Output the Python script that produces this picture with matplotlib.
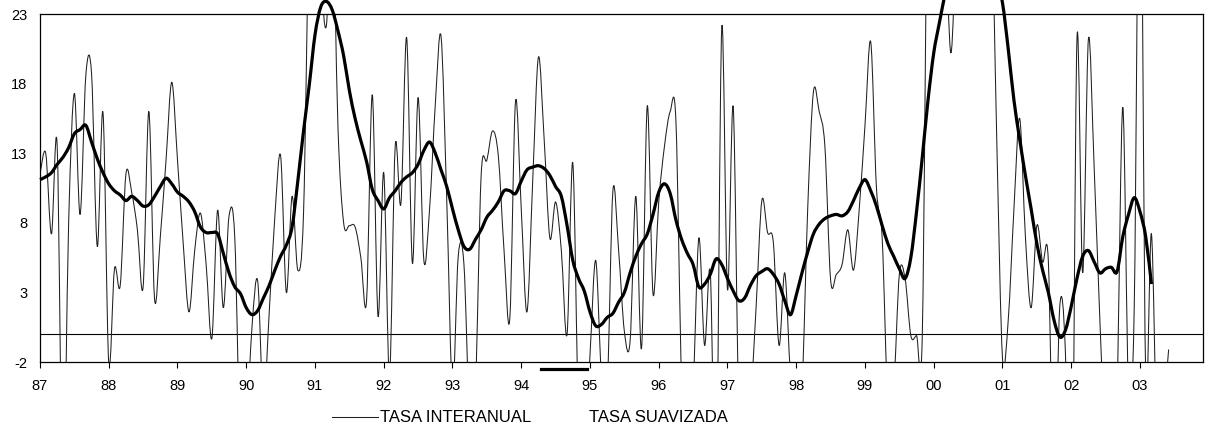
import matplotlib
matplotlib.use("Agg")
import matplotlib.pyplot as plt
from matplotlib.legend_handler import HandlerLine2D
from matplotlib.lines import Line2D
from matplotlib.path import Path
from matplotlib.patches import PathPatch
import numpy as np

plt.rcParams['font.family'] = ['Liberation Sans', 'DejaVu Sans']

# Datos mensuales desde enero 1987
tasa_interanual = [
    11.5, 13.0, 7.2, 13.5, -12, 8.0, 17.3, 8.6, 18.6, 18.7, 6.3, 15.9,
    -2.1, 4.7, 3.5, 11.5, 10.2, 7.5, 3.4, 16.0, 2.5, 7.0, 12.5, 18.1,
    12.5, 6.5, 1.6, 6.0, 8.7, 5.0, -0.3, 8.9, 1.9, 8.5, 6.9, -9,
    -7, 0.5, 3.8, -5, 1.5, 8.5, 12.8, 3.0, 9.9, 4.6, 8.7, 30,
    34, 26, 22.2, 32, 15, 8.0, 7.8, 7.7, 5.5, 2.4, 17.2, 1.3,
    11.6, -3, 13.5, 9.4, 21.3, 5.1, 17.0, 5.3, 9.0, 16.5, 21.4, 9.6,
    -4, 5.6, 5.0, -6, -4, 11.4, 12.5, 14.6, 12.8, 6.0, 1.1, 16.7,
    9.0, 1.6, 11.0, 19.9, 14.0, 6.9, 9.5, 6.0, 0.0, 12.3, -6, -8,
    -1.5, 5.3, -3, -4, 10.3, 6.0, 0.2, -0.5, 9.9, -1.0, 16.4, 2.9,
    9.5, 13.5, 16.0, 15.3, -3.5, -8, -4, 6.9, -0.8, 4.4, -12, 22.0,
    3.2, 16.3, -6, -7, -5, 2.0, 9.6, 7.3, 6.6, -0.8, 4.4, -3,
    -6, -4, 9.0, 17.4, 16.0, 13.5, 3.9, 4.3, 5.0, 7.5, 4.6, 9.0,
    15.0, 21.0, 10.5, 6.9, -5, -4, 4.3, 4.0, -0.1, -0.1, -0.1, 36,
    40, 38, 30, 20.2, 30, 40, 45, 45, 42, 38, 33, 14,
    -1.7, 1.0, 9.0, 15.5, 7.0, 1.9, 7.8, 5.2, 5.3, -12, 2.0, -1.5,
    -20, 21.2, 4.4, 21.2, 12.0, 1.0, -8, -8, -4, 16.3, -4, 2.0,
    40, -3, 7.2, -8, -6, -1.1,
]

tasa_suavizada = [
    11.1, 11.3, 11.6, 12.2, 12.7, 13.4, 14.4, 14.7, 15.0, 13.8, 12.6, 11.6,
    10.8, 10.3, 10.0, 9.6, 9.9, 9.6, 9.2, 9.3, 9.9, 10.6, 11.2, 10.8,
    10.2, 9.9, 9.5, 8.8, 7.7, 7.3, 7.3, 7.2, 5.8, 4.4, 3.4, 2.9,
    1.9, 1.4, 1.7, 2.6, 3.5, 4.6, 5.6, 6.4, 7.7, 11.0, 14.6, 17.9,
    21.5, 23.5, 23.9, 23.3, 21.8, 20.0, 17.5, 15.5, 13.9, 12.4, 10.4, 9.6,
    9.0, 9.8, 10.3, 10.9, 11.3, 11.6, 12.2, 13.2, 13.8, 13.0, 11.8, 10.6,
    9.0, 7.5, 6.3, 6.1, 6.8, 7.5, 8.4, 8.9, 9.5, 10.3, 10.3, 10.1,
    11.0, 11.8, 12.0, 12.1, 11.9, 11.4, 10.6, 9.9, 7.8, 5.3, 4.0, 3.1,
    1.6, 0.6, 0.7, 1.2, 1.5, 2.3, 3.0, 4.4, 5.6, 6.5, 7.2, 8.6,
    10.2, 10.8, 10.1, 8.2, 6.8, 5.8, 5.0, 3.4, 3.6, 4.3, 5.4, 5.0,
    4.0, 3.1, 2.4, 2.6, 3.5, 4.2, 4.5, 4.7, 4.3, 3.6, 2.4, 1.4,
    2.8, 4.4, 5.9, 7.2, 7.9, 8.3, 8.5, 8.6, 8.5, 8.8, 9.6, 10.5,
    11.1, 10.3, 9.2, 7.8, 6.5, 5.6, 4.7, 4.0, 5.5, 8.8, 12.7, 16.8,
    20.2, 22.4, 24.5, 26.5, 28, 29, 29.5, 29.5, 29, 28, 27, 25.5,
    23.8, 20.5, 16.8, 14.0, 11.4, 9.0, 6.5, 4.6, 3.0, 1.0, -0.2, 0.3,
    2.0, 4.0, 5.6, 6.0, 5.2, 4.4, 4.7, 4.8, 4.5, 7.0, 8.6, 9.8,
    8.8, 7.0, 3.6,
]

etiquetas_anio = ['87', '88', '89', '90', '91', '92', '93', '94', '95',
                  '96', '97', '98', '99', '00', '01', '02', '03']
n_meses = 204
y_ticks = [-2, 3, 8, 13, 18, 23]


def curva_suave(x, y):
    # línea suavizada tipo Excel (Bezier por los puntos)
    p = np.column_stack([x, y]).astype(float)
    n = len(p)
    verts = [p[0]]
    codes = [Path.MOVETO]
    for i in range(n - 1):
        p0 = p[i - 1] if i > 0 else p[i]
        p1, p2 = p[i], p[i + 1]
        p3 = p[i + 2] if i + 2 < n else p[i + 1]
        verts += [p1 + (p2 - p0) / 6, p2 - (p3 - p1) / 6, p2]
        codes += [Path.CURVE4] * 3
    return Path(verts, codes)


class HandlerDesplazado(HandlerLine2D):
    # la muestra de la serie suavizada aparece más arriba que su texto
    def __init__(self, dy, **kw):
        super().__init__(**kw)
        self.dy = dy

    def create_artists(self, legend, orig_handle, xdescent, ydescent,
                       width, height, fontsize, trans):
        arts = super().create_artists(legend, orig_handle, xdescent, ydescent,
                                      width, height, fontsize, trans)
        for a in arts:
            a.set_ydata(np.asarray(a.get_ydata()) + self.dy)
        return arts


fig = plt.figure(figsize=(12.06, 4.30), dpi=100)
ax = fig.add_axes([40 / 1206, 68 / 430, 1163 / 1206, 348 / 430])

x1 = np.arange(len(tasa_interanual))
x2 = np.arange(len(tasa_suavizada))

ax.axhline(0, color='black', linewidth=0.8, zorder=1)
ax.add_patch(PathPatch(curva_suave(x1, tasa_interanual), fill=False,
                       edgecolor='#202020', linewidth=0.75, zorder=2))
ax.add_patch(PathPatch(curva_suave(x2, tasa_suavizada), fill=False,
                       edgecolor='black', linewidth=2.3, zorder=3,
                       clip_on=False, capstyle='butt'))

ax.set_xlim(0, n_meses - 1)
ax.set_ylim(-2, 23)
ax.set_xticks(np.arange(0, 12 * len(etiquetas_anio), 12))
ax.set_xticklabels(etiquetas_anio)
ax.set_yticks(y_ticks)
ax.set_yticklabels([str(v) for v in y_ticks])
ax.tick_params(axis='x', direction='out', length=4, width=0.8, pad=8,
               labelsize=10.5)
ax.tick_params(axis='y', length=0, pad=9, labelsize=10.5)
for s in ax.spines.values():
    s.set_linewidth(0.9)
    s.set_color('black')

h1 = Line2D([], [], color='#202020', linewidth=0.75, label='TASA INTERANUAL')
h2 = Line2D([], [], color='black', linewidth=2.3, label='TASA SUAVIZADA')
fig.legend(handles=[h1, h2], loc='center',
           bbox_to_anchor=(530 / 1206, 1 - 418 / 430), ncol=2,
           frameon=False, fontsize=12, handlelength=2.75,
           handletextpad=0.12, columnspacing=0.6, borderpad=0,
           handler_map={h2: HandlerDesplazado(34)})

fig.savefig('out.png', dpi=100)
